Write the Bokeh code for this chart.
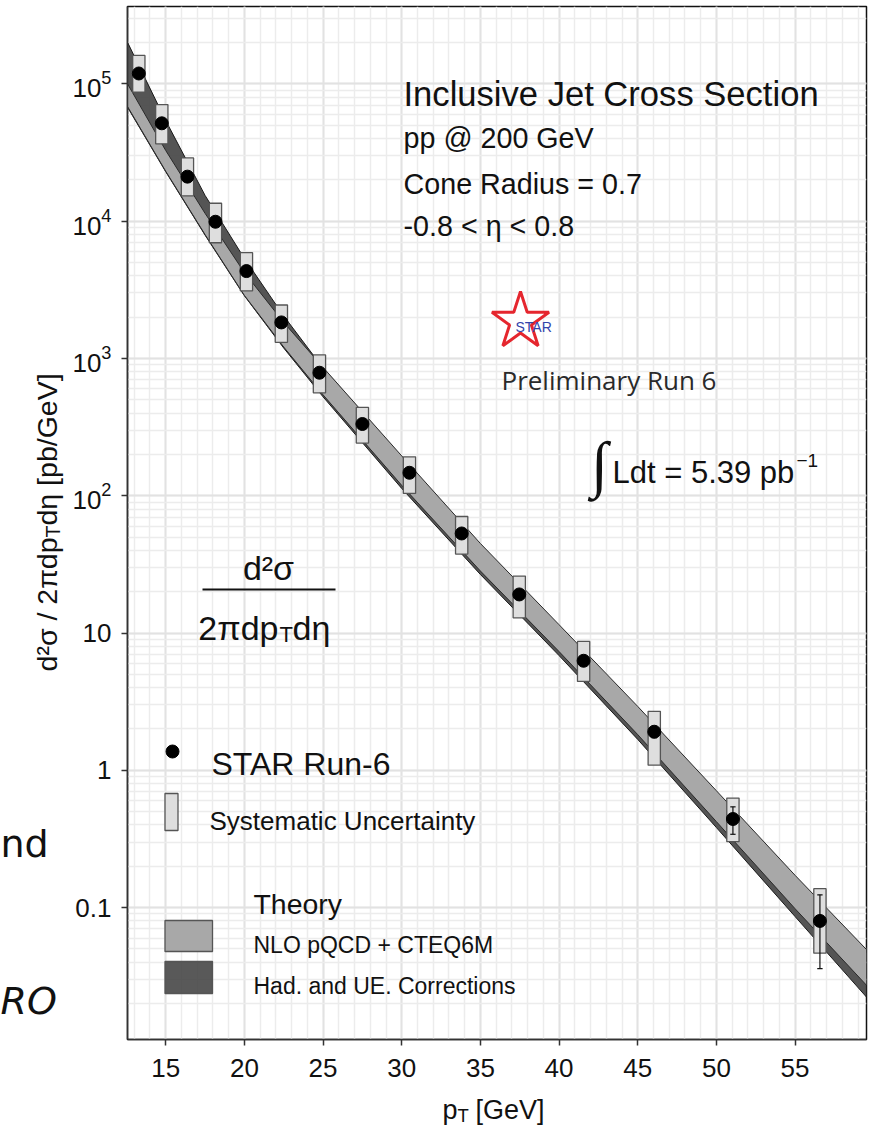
import math
from bokeh.plotting import figure
from bokeh.layouts import row, column
from bokeh.models import Range1d, FixedTicker, LogTicker, LogTickFormatter, Label
from bokeh.embed import file_html
from bokeh.resources import INLINE

# ---------------- data ----------------
pt = [13.29, 14.75, 16.38, 18.16, 20.13, 22.35, 24.77, 27.50, 30.49, 33.81, 37.47, 41.56, 46.05, 51.05, 56.58]
xsec = [1.19e5, 5.16e4, 2.11e4, 9.9e3, 4.33e3, 1.83e3, 787.0, 333.0, 147.0, 53.1, 19.1, 6.28, 1.91, 0.442, 0.080]
stat_err = [1.2e3, 5.0e2, 2.0e2, 90.0, 40.0, 18.0, 8.0, 3.5, 1.6, 0.6, 0.25, 0.10, 0.18, 0.10, 0.044]
sys_hi = [1.61e5, 7.06e4, 2.89e4, 1.35e4, 5.89e3, 2.45e3, 1.06e3, 440.0, 192.0, 70.6, 26.0, 8.69, 2.69, 0.628, 0.1375]
sys_lo = [8.69e4, 3.66e4, 1.53e4, 6.96e3, 3.11e3, 1.31e3, 562.0, 242.0, 104.0, 37.6, 12.9, 4.44, 1.09, 0.302, 0.0466]

band_pt = [12.57, 15.0, 17.5, 20.0, 22.5, 25.0, 30.0, 35.0, 40.0, 45.0, 50.0, 55.0, 59.54]
nlo_hi = [1.00e5, 3.27e4, 1.14e4, 4.22e3, 1.83e3, 861.0, 195.0, 44.9, 11.5, 2.92, 0.710, 0.172, 0.0495]
nlo_lo = [6.84e4, 2.31e4, 7.98e3, 2.88e3, 1.21e3, 543.0, 119.0, 28.3, 7.33, 1.82, 0.423, 0.0982, 0.0272]
had_hi = [2.01e5, 5.40e4, 1.54e4, 5.35e3, 2.04e3, 851.0, 190.0, 42.7, 11.0, 2.79, 0.676, 0.164, 0.0468]
had_lo = [6.76e4, 2.29e4, 7.91e3, 2.86e3, 1.19e3, 525.0, 113.0, 26.7, 6.85, 1.68, 0.383, 0.0861, 0.0223]

x_ticks = [15, 20, 25, 30, 35, 40, 45, 50, 55]
x_minor = list(range(13, 60))

X_START, X_END = 12.57, 59.54
Y_START, Y_END = 0.01095, 3.66e5

# ---------------- layout (page pixels) ----------------
LEFT_W = 64            # left strip with the y-axis title
TOTAL_H = 1129
FL, FR, FT, FB = 127, 866, 6, 1039   # frame of the main plot
MAIN_W = 806
MAIN_H = 1089
LY0, LY1 = math.log10(Y_START), math.log10(Y_END)


def xd(px):
    return X_START + (px - FL) / (FR - FL) * (X_END - X_START)


def yd(py):
    return 10 ** (LY1 - (py - FT) / (FB - FT) * (LY1 - LY0))


p = figure(width=MAIN_W, height=MAIN_H, y_axis_type="log",
           x_range=Range1d(X_START, X_END), y_range=Range1d(Y_START, Y_END),
           output_backend="svg", toolbar_location=None,
           min_border_left=FL - LEFT_W, min_border_right=MAIN_W - (FR - LEFT_W),
           min_border_top=FT, min_border_bottom=MAIN_H - FB)
p.background_fill_color = "white"
p.border_fill_color = "white"
p.outline_line_color = "#111111"
p.outline_line_width = 1.5

p.xaxis.ticker = FixedTicker(ticks=x_ticks, minor_ticks=x_minor)
p.yaxis.ticker = LogTicker(num_minor_ticks=10)
p.yaxis.formatter = LogTickFormatter(min_exponent=2)
for ax in (p.xaxis, p.yaxis):
    ax.major_label_text_font = "Liberation Sans"
    ax.major_label_text_font_size = "26px"
    ax.major_label_text_color = "#111111"
    ax.axis_line_color = "#333333"
    ax.axis_line_width = 1.5
    ax.major_tick_line_color = "#333333"
    ax.major_tick_line_width = 1.5
    ax.major_tick_out = 6
    ax.major_tick_in = 0
    ax.minor_tick_line_color = None
p.yaxis.major_label_standoff = 10
p.xaxis.major_label_standoff = 13

for g in (p.xgrid, p.ygrid):
    g.grid_line_color = "#E2E2E2"
    g.grid_line_width = 2
    g.minor_grid_line_color = "#ECECEC"
    g.minor_grid_line_width = 1.5

# ---------------- theory bands ----------------
p.varea(x=band_pt, y1=had_lo, y2=had_hi, fill_color="#474747", fill_alpha=0.92)
p.line(band_pt, had_hi, line_color="#1a1a1a", line_width=1)
p.line(band_pt, had_lo, line_color="#1a1a1a", line_width=1)
p.varea(x=band_pt, y1=nlo_lo, y2=nlo_hi, fill_color="#A8A8A8")
p.line(band_pt, nlo_hi, line_color="#2a2a2a", line_width=1)
p.line(band_pt, nlo_lo, line_color="#2a2a2a", line_width=1)

# ---------------- data: systematic boxes, stat errors, points ----------------
box_half = 0.39
p.quad(left=[x - box_half for x in pt], right=[x + box_half for x in pt],
       bottom=sys_lo, top=sys_hi, fill_color="#DEDEDE", line_color="#555555", line_width=1.3)
err_lo = [y - e for y, e in zip(xsec, stat_err)]
err_hi = [y + e for y, e in zip(xsec, stat_err)]
cap = 0.17
p.segment(x0=pt, y0=err_lo, x1=pt, y1=err_hi, line_color="#111111", line_width=1.2)
p.segment(x0=[x - cap for x in pt], y0=err_lo, x1=[x + cap for x in pt], y1=err_lo,
          line_color="#111111", line_width=1.2)
p.segment(x0=[x - cap for x in pt], y0=err_hi, x1=[x + cap for x in pt], y1=err_hi,
          line_color="#111111", line_width=1.2)
p.scatter(pt, xsec, size=13, color="black")


def lab(fig, text, x, y, size, align="left", baseline="alphabetic", font="Liberation Sans",
        color="#111111", angle=0.0, style="normal"):
    fig.add_layout(Label(x=x, y=y, text=text, text_font=font,
                         text_font_size=f"{size}px", text_align=align, text_baseline=baseline,
                         text_color=color, angle=angle, text_font_style=style))


def mlab(text, px, py, size, **kw):
    lab(p, text, xd(px), yd(py), size, **kw)


# ---------------- header texts ----------------
mlab("Inclusive Jet Cross Section", 403, 93, 34.6)
mlab("pp @ 200 GeV", 403, 137, 28.7)
mlab("Cone Radius = 0.7", 403, 183, 28.7)
mlab("-0.8 < \u03b7 < 0.8", 403, 225, 28.7)

# STAR logo
p.scatter([xd(520)], [yd(321)], marker="star", size=60, fill_color="white", fill_alpha=0.9,
          line_color="#E5262E", line_width=3)
mlab("STAR", 515, 326, 14, color="#3344AA")
mlab("Preliminary Run 6", 501, 379, 26, font="Open Sans", color="#2a2a2a")

# luminosity
mlab("\u222b", 599, 463, 62, align="center", baseline="middle", font="Liberation Serif")
mlab("Ldt = 5.39 pb", 612, 472, 31)
mlab("\u22121", 796, 460, 19)

# fraction
mlab("d\u00b2\u03c3", 268, 567, 34, align="center")
p.segment(x0=[xd(202)], y0=[yd(589)], x1=[xd(335)], y1=[yd(589)], line_color="#111111", line_width=2)
mlab("2\u03c0dp", 278, 627, 34, align="right")
mlab("T", 279, 634, 22)
mlab("d\u03b7", 292, 627, 34)

# ---------------- legend ----------------
p.scatter([xd(172)], [yd(751)], size=13, color="black")
mlab("STAR Run-6", 211, 763, 32)
p.quad(left=[xd(164.5)], right=[xd(177.5)], bottom=[yd(830)], top=[yd(793)],
       fill_color="#DEDEDE", line_color="#555555", line_width=1.3)
mlab("Systematic Uncertainty", 209, 820, 26)
mlab("Theory", 253, 903, 28.4)
p.quad(left=[xd(164.5)], right=[xd(212)], bottom=[yd(951)], top=[yd(920)],
       fill_color="#A8A8A8", line_color="#555555", line_width=1.3)
mlab("NLO pQCD + CTEQ6M", 253, 944, 23)
p.quad(left=[xd(164.5)], right=[xd(212)], bottom=[yd(993)], top=[yd(961)],
       fill_color="#474747", fill_alpha=0.9, line_color="#555555", line_width=1.3)
mlab("Had. and UE. Corrections", 253, 985, 23)


def strip(w, h, xr, yr):
    f = figure(width=w, height=h, x_range=Range1d(*xr), y_range=Range1d(*yr),
               output_backend="svg", toolbar_location=None,
               x_axis_location=None, y_axis_location=None,
               min_border_left=0, min_border_right=0, min_border_top=0, min_border_bottom=0)
    f.grid.visible = False
    f.outline_line_color = None
    f.background_fill_color = "white"
    f.border_fill_color = "white"
    return f


# ---------------- y-axis title (left strip, page-pixel coordinates) ----------------
left = strip(LEFT_W, TOTAL_H, (0, LEFT_W), (TOTAL_H, 0))
ang = math.pi / 2
lab(left, "d\u00b2\u03c3 / 2\u03c0dp", 46, 537, 28.5, align="right", angle=ang)
lab(left, "T", 52, 537, 19.5, angle=ang)
lab(left, "d\u03b7 [pb/GeV]", 46, 525, 28.5, angle=ang)
# fragments of slide text at the left edge
lab(left, "nd", 0, 843, 38, font="DejaVu Sans")
lab(left, "RO", 0, 1000, 38, font="DejaVu Sans", style="italic")

# ---------------- x-axis title (bottom strip; its frame is aligned with the main frame) ----------------
bottom = strip(MAIN_W, TOTAL_H - MAIN_H, (FL, FR), (TOTAL_H, MAIN_H))
lab(bottom, "p", 442, 1109, 27)
lab(bottom, "T", 457, 1115, 18.5)
lab(bottom, "[GeV]", 475, 1109, 27)

layout = row(left, column(p, bottom, spacing=0), spacing=0)
open("out.html", "w").write(file_html(layout, INLINE))
